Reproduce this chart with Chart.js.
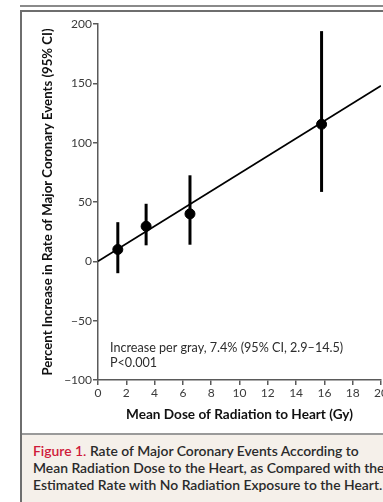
<!DOCTYPE html>
<html>
<head>
<meta charset="utf-8">
<script src="https://cdn.jsdelivr.net/npm/chart.js@4.4.1/dist/chart.umd.min.js"></script>
<style>
    html, body { margin: 0; padding: 0; width: 383px; height: 502px; overflow: hidden; background: #fff; }
    .rule { position: absolute; left: 20px; top: 5px; width: 400px; height: 2px; background: #8a8a8a; }
    .frame { position: absolute; left: 20px; top: 10px; width: 420px; height: 500px;
             border-left: 2px solid #6e6e6e; border-top: 2px solid #6e6e6e; }
    .caption { position: absolute; left: 22px; top: 433px; width: 420px; height: 80px;
               background: #f5f0ea; border-top: 2px solid #9a9a9a; }
    .caption p { margin: 0; padding: 7px 0 0 11px; font-family: Lato, sans-serif; font-weight: 600;
                 font-size: 13.9px; line-height: 17px; color: #2a2a2a; white-space: nowrap; }
    .caption .fig { color: #cf1b3a; }
    #chart-wrap { position: absolute; left: 0; top: 0; width: 400px; height: 430px; }
</style>
</head>
<body>
<div class="rule"></div>
<div class="frame"></div>
<div id="chart-wrap"><canvas id="doseChart" width="400" height="430"></canvas></div>
<div class="caption">
    <p><span class="fig">Figure 1.</span> Rate of Major Coronary Events According to<br>Mean Radiation Dose to the Heart, as Compared with the<br>Estimated Rate with No Radiation Exposure to the Heart.</p>
</div>

<script>
// Dose groups: mean dose (Gy), percent increase and 95% CI bounds
const doseGy = [1.4, 3.4, 6.5, 15.8];
const pctIncrease = [10, 29.5, 40, 115.5];
const ciLow = [-10, 13.5, 14, 58.5];
const ciHigh = [33, 48.5, 72.5, 194];

// Fitted linear trend, 7.4% per gray
const fitX = [0, 20];
const fitY = [0, 148];

const xTicks = [0, 2, 4, 6, 8, 10, 12, 14, 16, 18, 20];
const yTicks = [-100, -50, 0, 50, 100, 150, 200];

const noteLines = ['Increase per gray, 7.4% (95% CI, 2.9\u201314.5)', 'P<0.001'];

const FONT = 'Lato, sans-serif';
const AXIS_GREY = '#5a5a5a';

// Vertical CI bars drawn behind the points
const errorBars = {
    id: 'errorBars',
    beforeDatasetsDraw(chart) {
        const { ctx, scales: { x, y } } = chart;
        ctx.save();
        ctx.strokeStyle = '#000';
        ctx.lineWidth = 3;
        doseGy.forEach((d, i) => {
            const px = x.getPixelForValue(d);
            ctx.beginPath();
            ctx.moveTo(px, y.getPixelForValue(ciLow[i]));
            ctx.lineTo(px, y.getPixelForValue(ciHigh[i]));
            ctx.stroke();
        });
        ctx.restore();
    }
};

// Slope / p-value note in the lower left of the plot
const notePlugin = {
    id: 'note',
    afterDraw(chart) {
        const { ctx, chartArea } = chart;
        ctx.save();
        ctx.fillStyle = '#2c2c2c';
        ctx.font = '12.6px ' + FONT;
        ctx.textBaseline = 'middle';
        noteLines.forEach((t, i) => {
            ctx.fillText(t, chartArea.left + 12, chartArea.bottom - 32 + i * 15);
        });
        ctx.restore();
    }
};

new Chart(document.getElementById('doseChart').getContext('2d'), {
    type: 'scatter',
    data: {
        datasets: [
            {
                type: 'line',
                data: fitX.map((v, i) => ({ x: v, y: fitY[i] })),
                borderColor: '#000',
                borderWidth: 1.8,
                pointRadius: 0,
                fill: false
            },
            {
                data: doseGy.map((v, i) => ({ x: v, y: pctIncrease[i] })),
                backgroundColor: '#000',
                borderColor: '#000',
                pointRadius: 5,
                pointHoverRadius: 5
            }
        ]
    },
    options: {
        responsive: false,
        animation: false,
        events: [],
        layout: { padding: { top: 24, right: 19, left: 0, bottom: 0 } },
        plugins: { legend: { display: false }, tooltip: { enabled: false } },
        scales: {
            x: {
                type: 'linear',
                min: 0,
                max: 20,
                afterBuildTicks: s => { s.ticks = xTicks.map(v => ({ value: v })); },
                afterFit: s => { s.height = 50; },
                border: { color: AXIS_GREY, width: 1.5 },
                grid: { drawOnChartArea: false, drawTicks: true, tickLength: 5, color: AXIS_GREY, lineWidth: 1.5 },
                ticks: { color: '#3a3a3a', font: { family: FONT, size: 12 }, padding: 1, maxRotation: 0 },
                title: {
                    display: true,
                    text: 'Mean Dose of Radiation to Heart (Gy)',
                    color: '#111',
                    font: { family: FONT, size: 13.6, weight: 'bold' },
                    padding: { top: 0, bottom: 7 }
                }
            },
            y: {
                type: 'linear',
                min: -100,
                max: 200,
                afterBuildTicks: s => { s.ticks = yTicks.map(v => ({ value: v })); },
                afterFit: s => { s.width = 98; },
                border: { color: AXIS_GREY, width: 1.5 },
                grid: { drawOnChartArea: false, drawTicks: true, tickLength: 5, color: AXIS_GREY, lineWidth: 1.5 },
                ticks: {
                    color: '#3a3a3a',
                    font: { family: FONT, size: 12 },
                    padding: 1,
                    callback: v => (v < 0 ? '\u2212' + Math.abs(v) : String(v))
                },
                title: {
                    display: true,
                    text: 'Percent Increase in Rate of Major Coronary Events (95% CI)',
                    color: '#111',
                    font: { family: FONT, size: 13.2, weight: 'bold' },
                    padding: { top: 40, bottom: 0 }
                }
            }
        }
    },
    plugins: [errorBars, notePlugin]
});
</script>
</body>
</html>
